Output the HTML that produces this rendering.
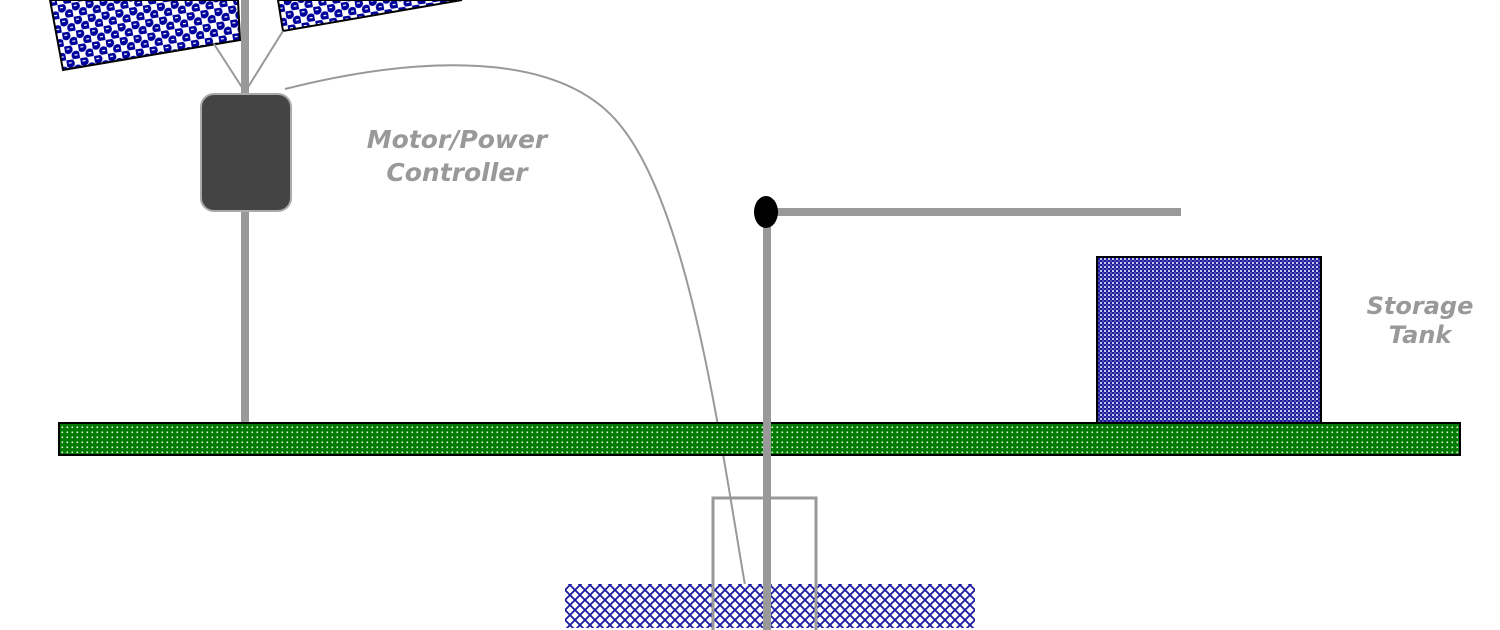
<!DOCTYPE html>
<html><head><meta charset="utf-8"><style>
html,body{margin:0;padding:0;background:#fff;width:1500px;height:630px;overflow:hidden}
svg{display:block}
text{font-family:"DejaVu Sans","Liberation Sans",sans-serif;font-weight:bold;font-style:italic;fill:#999;text-anchor:middle}
</style></head><body>
<svg width="1500" height="630" viewBox="0 0 1500 630" xmlns="http://www.w3.org/2000/svg">
<defs>
<pattern id="panel" width="14" height="14" patternUnits="userSpaceOnUse" patternTransform="rotate(-9)">
<rect width="14" height="14" fill="#fff"/>
<circle cx="3.5" cy="3.5" r="4.6" fill="#00009c"/>
<circle cx="10.5" cy="10.5" r="4.6" fill="#00009c"/>
<rect x="2" y="2.5" width="3" height="1.2" fill="#fff"/>
<rect x="9" y="9.5" width="3" height="1.2" fill="#fff"/>
</pattern>
<pattern id="green" width="5" height="5" patternUnits="userSpaceOnUse">
<rect width="5" height="5" fill="#007a00"/>
<rect x="1.5" y="1.5" width="1.6" height="1.6" fill="#e8f5e8"/>
</pattern>
<pattern id="tank" width="4" height="4" patternUnits="userSpaceOnUse">
<rect width="4" height="4" fill="#c8c8ec"/>
<rect width="2" height="2" fill="#1a1a9a"/>
<rect x="2" y="2" width="2" height="2" fill="#1a1a9a"/>
<rect x="2" y="0" width="2" height="2" fill="#5050b8"/>
</pattern>
<pattern id="water" width="10" height="10" patternUnits="userSpaceOnUse">
<rect width="10" height="10" fill="#fff"/>
<path d="M5 0 L10 5 L5 10 L0 5 Z" fill="none" stroke="#1a1aa0" stroke-width="1.8"/>
</pattern>
</defs>

<polygon points="50,0 238,0 240,40 63,70" fill="url(#panel)" stroke="#000" stroke-width="2"/>
<polygon points="278,0 462,0 283,31" fill="url(#panel)" stroke="#000" stroke-width="2"/>

<rect x="241" y="0" width="8" height="424" fill="#999"/>
<line x1="214" y1="44" x2="245" y2="92" stroke="#999" stroke-width="2"/>
<line x1="283" y1="31" x2="245" y2="92" stroke="#999" stroke-width="2"/>

<rect x="201" y="94" width="90" height="117" rx="13" fill="#444" stroke="#aaa" stroke-width="2"/>

<path d="M285 89 C 420 55 560 50 620 125 C 690 210 720 440 745 585" fill="none" stroke="#999" stroke-width="2"/>

<rect x="59" y="423" width="1401" height="32" fill="url(#green)" stroke="#000" stroke-width="2"/>

<rect x="1097" y="257" width="224" height="166" fill="url(#tank)" stroke="#000" stroke-width="2"/>

<rect x="565" y="584" width="410" height="44" fill="url(#water)"/>

<path d="M713 630 V498 H816 V630" fill="none" stroke="#999" stroke-width="3"/>

<rect x="763" y="222" width="8" height="408" fill="#999"/>
<rect x="776" y="208" width="405" height="8" fill="#999"/>
<ellipse cx="766" cy="212" rx="12" ry="16" fill="#000"/>

<text x="457" y="148" font-size="25">Motor/Power</text>
<text x="457" y="181" font-size="25">Controller</text>
<text x="1420" y="314" font-size="24">Storage</text>
<text x="1420" y="343" font-size="24">Tank</text>
</svg>
</body></html>
